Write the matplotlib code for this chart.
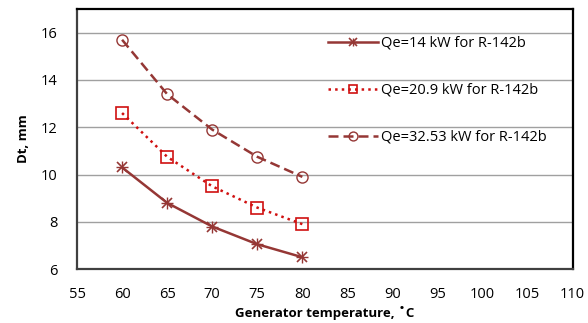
import matplotlib
matplotlib.use("Agg")
from matplotlib import pyplot as plt

plt.rcParams['font.family'] = ['Open Sans', 'DejaVu Sans']

temps = [60, 65, 70, 75, 80]
dt_14 = [10.3, 8.8, 7.8, 7.05, 6.5]
dt_209 = [12.6, 10.75, 9.5, 8.6, 7.9]
dt_3253 = [15.7, 13.4, 11.9, 10.75, 9.9]
labels = ['Qe=14 kW for R-142b', 'Qe=20.9 kW for R-142b', 'Qe=32.53 kW for R-142b']

fig = plt.figure(figsize=(5.88, 3.23), dpi=100)
ax = fig.add_axes([0.131, 0.167, 0.843, 0.805])

dark = '#953735'
red = '#d01010'

# star marker = x + plus on top of each other
l1, = ax.plot(temps, dt_14, '-', color=dark, lw=1.8, marker='x', ms=7, mew=1.2)
l1b, = ax.plot(temps, dt_14, ' ', color=dark, marker='+', ms=8, mew=1.0)
l2, = ax.plot(temps, dt_209, ':', color=red, lw=1.8, marker='s', ms=8, mfc='none', mew=1.2)
l3, = ax.plot(temps, dt_3253, '--', color=dark, lw=1.8, marker='o', ms=8, mfc='none', mew=1.0,
              dashes=(4, 2))

ax.set_xlim(55, 110)
ax.set_ylim(6, 17)
ax.set_xticks(range(55, 111, 5))
ax.set_yticks(range(6, 17, 2))
ax.grid(axis='y', color='#a0a0a0', lw=1)
ax.set_axisbelow(True)
ax.tick_params(length=0, labelsize=10.5)
ax.tick_params(axis='x', pad=13)
ax.tick_params(axis='y', pad=14)
for s in ax.spines.values():
    s.set_linewidth(1.6)
    s.set_color('black')
ax.spines['left'].set_color('#404040')
ax.spines['bottom'].set_color('#404040')

ax.set_xlabel('Generator temperature, ˚C', fontsize=9.5, fontweight='bold', labelpad=3)
ax.set_ylabel('Dt, mm', fontsize=9.5, fontweight='bold', labelpad=8)

ax.legend([(l1, l1b), l2, l3], labels, loc='upper left', bbox_to_anchor=(0.48, 0.948),
          frameon=False, fontsize=10.5, labelspacing=2.2, handlelength=3.4,
          handletextpad=0.25, markerscale=0.8)

fig.savefig('out.png', dpi=100)
